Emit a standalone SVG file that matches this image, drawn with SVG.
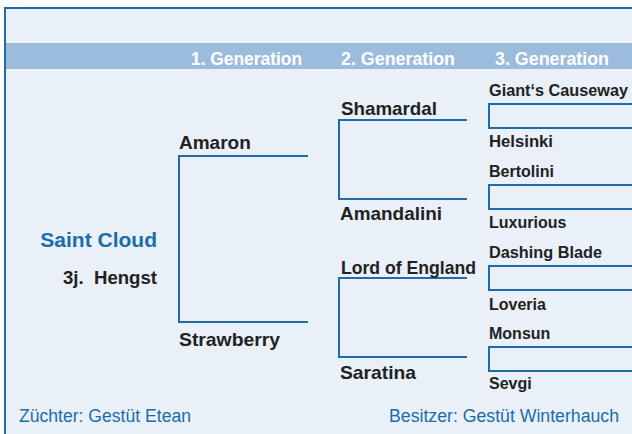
<svg xmlns="http://www.w3.org/2000/svg" width="632" height="434" viewBox="0 0 632 434">
<style>
.bg{fill:#e9f0f8;stroke:#1f6ca8;stroke-width:2}
.band{fill:#9bbcdc}
.hd{font-family:"Liberation Sans",Arial,sans-serif;font-weight:bold;font-size:18px;fill:#ffffff}
.n1{font-family:"Liberation Sans",Arial,sans-serif;font-weight:bold;font-size:19px;fill:#222222}
.n3{font-family:"Liberation Sans",Arial,sans-serif;font-weight:bold;font-size:16px;fill:#222222}
.main{font-family:"Liberation Sans",Arial,sans-serif;font-weight:bold;font-size:21px;fill:#1a6dab}
.sub{font-family:"Liberation Sans",Arial,sans-serif;font-weight:bold;font-size:18px;fill:#222222}
.ft{font-family:"Liberation Sans",Arial,sans-serif;font-size:18px;fill:#1a6dab}
.ln{fill:none;stroke:#1f6ca8;stroke-width:2}
</style>
<rect class="bg" x="5" y="8" width="640" height="440"/>
<rect class="band" x="6" y="43" width="626" height="26"/>
<g id="header">
<text class="hd" x="191" y="65" textLength="111" lengthAdjust="spacingAndGlyphs">1. Generation</text>
<text class="hd" x="341" y="65" textLength="114" lengthAdjust="spacingAndGlyphs">2. Generation</text>
<text class="hd" x="495" y="65" textLength="114" lengthAdjust="spacingAndGlyphs">3. Generation</text>
</g>
<g id="connectors">
<path class="ln" d="M308 156 H179 V322 H308"/>
<path class="ln" d="M467 120 H339 V199 H467"/>
<path class="ln" d="M467 278 H339 V357 H467"/>
<path class="ln" d="M645 104 H489 V128 H645"/>
<path class="ln" d="M645 185 H489 V209 H645"/>
<path class="ln" d="M645 266 H489 V290 H645"/>
<path class="ln" d="M645 347 H489 V371 H645"/>
</g>
<g id="saint-cloud">
<text class="main" x="157" y="247" text-anchor="end">Saint Cloud</text>
<text class="sub" x="157" y="284" text-anchor="end" textLength="94" lengthAdjust="spacingAndGlyphs" xml:space="preserve">3j.  Hengst</text>
</g>
<g id="amaron"><text class="n1" x="179" y="149">Amaron</text></g>
<g id="strawberry"><text class="n1" x="179" y="346" textLength="101" lengthAdjust="spacingAndGlyphs">Strawberry</text></g>
<g id="shamardal"><text class="n1" x="341" y="115" textLength="96" lengthAdjust="spacingAndGlyphs">Shamardal</text></g>
<g id="amandalini"><text class="n1" x="340" y="220" textLength="102" lengthAdjust="spacingAndGlyphs">Amandalini</text></g>
<g id="lord-of-england"><text class="n1" x="341" y="274" textLength="135" lengthAdjust="spacingAndGlyphs">Lord of England</text></g>
<g id="saratina"><text class="n1" x="340" y="379" textLength="76" lengthAdjust="spacingAndGlyphs">Saratina</text></g>
<g id="giants-causeway"><text class="n3" x="489" y="96" textLength="139" lengthAdjust="spacingAndGlyphs">Giant‘s Causeway</text></g>
<g id="helsinki"><text class="n3" x="489" y="147" textLength="64" lengthAdjust="spacingAndGlyphs">Helsinki</text></g>
<g id="bertolini"><text class="n3" x="489" y="177">Bertolini</text></g>
<g id="luxurious"><text class="n3" x="489" y="228">Luxurious</text></g>
<g id="dashing-blade"><text class="n3" x="489" y="258" textLength="113" lengthAdjust="spacingAndGlyphs">Dashing Blade</text></g>
<g id="loveria"><text class="n3" x="489" y="310">Loveria</text></g>
<g id="monsun"><text class="n3" x="489" y="339">Monsun</text></g>
<g id="sevgi"><text class="n3" x="489" y="389">Sevgi</text></g>
<g id="footer">
<text class="ft" x="19" y="422" textLength="172" lengthAdjust="spacingAndGlyphs">Züchter: Gestüt Etean</text>
<text class="ft" x="389" y="422" textLength="230" lengthAdjust="spacingAndGlyphs">Besitzer: Gestüt Winterhauch</text>
</g>
</svg>
